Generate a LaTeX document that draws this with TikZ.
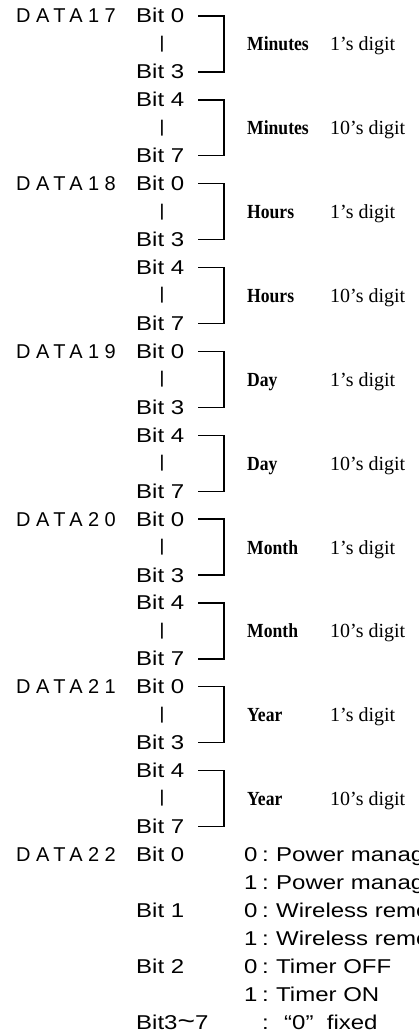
\documentclass[tikz,border=0pt]{standalone}
\usepackage{fontspec}
\setmainfont{Liberation Serif}
\newfontfamily\serifnarrow{Liberation Serif}[FakeStretch=0.88]
\newfontfamily\hv{Liberation Sans}[FakeStretch=1.2]
\newfontfamily\hvsp{Liberation Sans}[LetterSpace=27]
\begin{document}
\begin{tikzpicture}[x=1pt,y=-1pt,
  sans/.style={font=\hv\fontsize{20}{24}\selectfont, anchor=base west, inner sep=0pt},
  dlab/.style={font=\hvsp\fontsize{20}{24}\selectfont, anchor=base west, inner sep=0pt},
  barmark/.style={font=\hv\fontsize{17}{20}\selectfont, anchor=center, inner sep=0pt},
  fieldname/.style={font=\serifnarrow\bfseries\fontsize{20}{22}\selectfont, anchor=base west, inner sep=0pt},
  digitlab/.style={font=\fontsize{20}{22}\selectfont, anchor=base west, inner sep=0pt},
  bracketline/.style={line width=1.3pt, line join=miter}]
\useasboundingbox (0,0) rectangle (418,1033);
\clip (0,0) rectangle (418,1033);
\def\rs{27.95}
\foreach \k/\dn/\nm in {0/17/Minutes,1/18/Hours,2/19/Day,3/20/Month,4/21/Year}{
  \pgfmathsetmacro\yo{16+27.95*6*\k}
  \node[dlab] (d\dn) at (16,\yo+7) {DATA\dn};
  \node[sans] (b\dn-0) at (136,\yo+7) {Bit 0};
  \node[barmark] (v\dn-a) at (162,\yo+\rs) {|};
  \node[sans] (b\dn-3) at (136,\yo+2*\rs+7) {Bit 3};
  \node[sans] (b\dn-4) at (136,\yo+3*\rs+7) {Bit 4};
  \node[barmark] (v\dn-b) at (162,\yo+4*\rs) {|};
  \node[sans] (b\dn-7) at (136,\yo+5*\rs+7) {Bit 7};
  \node[fieldname] (n\dn-a) at (247,\yo+\rs+7) {\nm};
  \node[digitlab] (g\dn-a) at (330,\yo+\rs+7) {1’s digit};
  \node[fieldname] (n\dn-b) at (247,\yo+4*\rs+7) {\nm};
  \node[digitlab] (g\dn-b) at (330,\yo+4*\rs+7) {10’s digit};
  \coordinate (p\dn-a1) at (198,\yo);
  \coordinate (p\dn-a2) at (224,\yo);
  \coordinate (p\dn-a3) at (224,\yo+2*\rs);
  \coordinate (p\dn-a4) at (198,\yo+2*\rs);
  \coordinate (p\dn-b1) at (198,\yo+3*\rs);
  \coordinate (p\dn-b2) at (224,\yo+3*\rs);
  \coordinate (p\dn-b3) at (224,\yo+5*\rs);
  \coordinate (p\dn-b4) at (198,\yo+5*\rs);
  \draw[bracketline] (p\dn-a1) -- (p\dn-a2) -- (p\dn-a3) -- (p\dn-a4);
  \draw[bracketline] (p\dn-b1) -- (p\dn-b2) -- (p\dn-b3) -- (p\dn-b4);
}
\pgfmathsetmacro\yz{16+27.95*30}
\node[dlab] (d22) at (16,\yz+7) {DATA22};
\node[sans] (c0) at (136,\yz+7) {Bit 0};
\node[sans] (c1) at (136,\yz+2*\rs+7) {Bit 1};
\node[sans] (c2) at (136,\yz+4*\rs+7) {Bit 2};
\node[sans] (c3) at (136,\yz+6*\rs+7) {Bit3{\fontsize{25}{25}\selectfont\textasciitilde}7};
\foreach \i/\v/\t in {0/0/Power manage,1/1/Power manage,2/0/Wireless remo,3/1/Wireless remo,4/0/Timer OFF,5/1/Timer ON}{
  \node[sans] (e\i v) at (244,\yz+\i*\rs+7) {\v};
  \node[sans] (e\i c) at (262,\yz+\i*\rs+7) {:};
  \node[sans] (e\i t) at (276,\yz+\i*\rs+7) {\t};
}
\node[sans] (e6c) at (262,\yz+6*\rs+7) {:};
\node[sans] (e6t) at (284,\yz+6*\rs+7) {“0”\ \ fixed};
\end{tikzpicture}
\end{document}
